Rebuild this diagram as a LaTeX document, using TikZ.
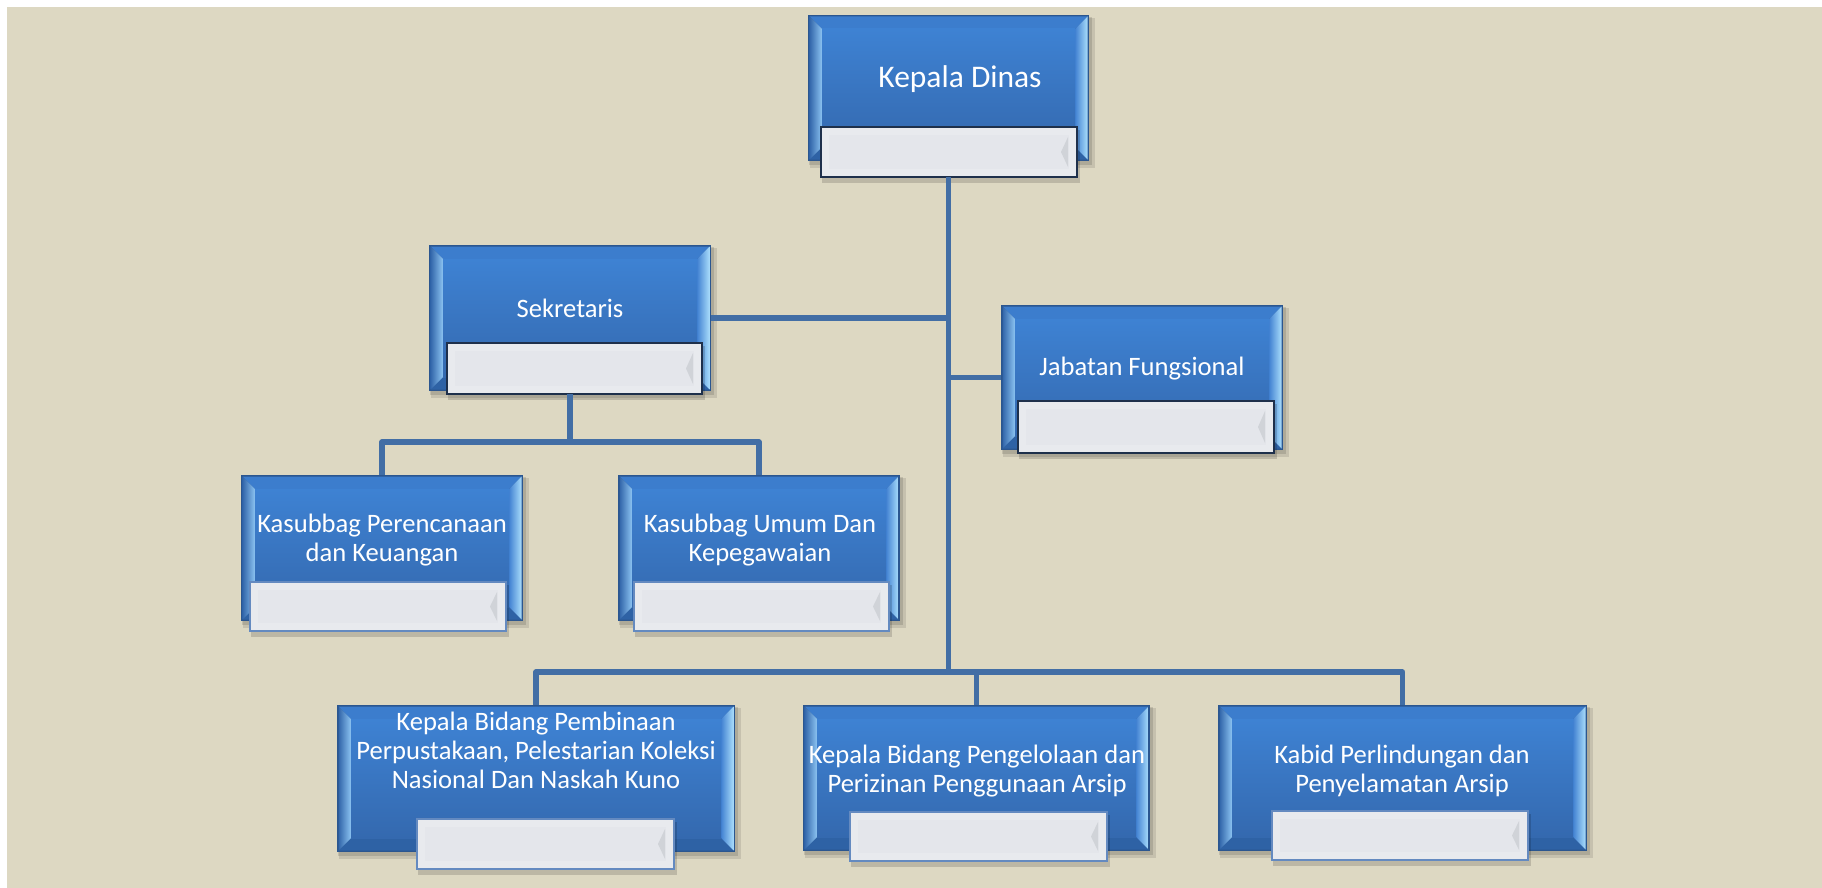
\documentclass[tikz,border=0pt]{standalone}
\usepackage{fontspec}
\setmainfont{Carlito}
\usetikzlibrary{fit}
\definecolor{bgbeige}{RGB}{221,216,194}
\definecolor{bedge}{RGB}{43,86,143}
\definecolor{btop}{RGB}{60,125,205}
\definecolor{bbot}{RGB}{46,98,165}
\definecolor{bleftout}{RGB}{50,102,170}
\definecolor{bleftin}{RGB}{140,196,242}
\definecolor{brightin}{RGB}{66,130,210}
\definecolor{brightout}{RGB}{168,220,251}
\definecolor{bfacetop}{RGB}{62,130,211}
\definecolor{bfacebot}{RGB}{52,105,175}
\definecolor{wfill}{RGB}{232,234,238}
\definecolor{winner}{RGB}{228,230,235}
\definecolor{wbevel}{RGB}{208,211,216}
\definecolor{navyline}{RGB}{30,48,75}
\definecolor{blueline}{RGB}{100,138,192}
\definecolor{connc}{RGB}{66,110,165}
\tikzset{
  conn/.style={draw=connc,line width=5.5pt,line join=round,line cap=butt},
  txt/.style={text=white,inner sep=0pt,align=center,font=\fontsize{26.6}{29}\selectfont},
}
\newcommand\bluebox[5]{%
  \fill[black,opacity=0.10] (#2+2,#3+3) rectangle (#4+6,#5+7);
  \fill[black,opacity=0.12] (#2+1,#3+2) rectangle (#4+3,#5+4);
  \fill[bedge] (#2,#3) rectangle (#4,#5);
  \fill[btop] (#2+1.5,#3+1.5) -- (#4-1.5,#3+1.5) -- (#4-14,#3+14) -- (#2+14,#3+14) -- cycle;
  \fill[bbot] (#2+1.5,#5-1.5) -- (#4-1.5,#5-1.5) -- (#4-14,#5-14) -- (#2+14,#5-14) -- cycle;
  \shade[left color=bleftout,right color=bleftin] (#2+1.5,#3+1.5) -- (#2+14,#3+14) -- (#2+14,#5-14) -- (#2+1.5,#5-1.5) -- cycle;
  \shade[left color=brightin,right color=brightout] (#4-1.5,#3+1.5) -- (#4-14,#3+14) -- (#4-14,#5-14) -- (#4-1.5,#5-1.5) -- cycle;
  \shade[top color=bfacetop,bottom color=bfacebot] (#2+14,#3+14) rectangle (#4-14,#5-14);
  \node[fit={(#2,#3)(#4,#5)},inner sep=0pt] (#1) {};
}
\newcommand\wbox[6]{%
  \fill[black,opacity=0.15] (#2+1,#3+3) rectangle (#4+3,#5+6);
  \fill[wfill] (#2,#3) rectangle (#4,#5);
  \fill[winner] (#2+8,#3+8) rectangle (#4-8,#5-8);
  \fill[wbevel] (#4-9,#3+10) -- (#4-9,#5-10) -- (#4-16,{(#3+#5)/2}) -- cycle;
  \draw[#6,line width=2pt] (#2,#3) rectangle (#4,#5);
  \node[fit={(#2,#3)(#4,#5)},inner sep=0pt] (#1) {};
}
\begin{document}
\begin{tikzpicture}[x=1pt,y=-1pt]
\useasboundingbox (0,0) rectangle (1822,888);
\fill[white] (0,0) rectangle (1822,888);
\fill[bgbeige] (7,7) rectangle (1822,888);

% boxes
\bluebox{kd}{808}{15}{1089}{161}
\wbox{kdw}{821}{127}{1077}{177}{navyline}
\bluebox{sek}{429}{245}{711}{391}
\wbox{sekw}{447}{343}{702}{394}{navyline}
\bluebox{jf}{1001}{305}{1283}{450}
\wbox{jfw}{1018}{401}{1274}{453}{navyline}
\bluebox{ksa}{241}{475}{523}{621}
\wbox{ksaw}{250}{582}{506}{631}{blueline}
\bluebox{ksb}{618}{475}{900}{621}
\wbox{ksbw}{634}{582}{889}{631}{blueline}
\bluebox{pb}{337}{705}{735}{852}
\wbox{pbw}{417}{819}{674}{869}{blueline}
\bluebox{pg}{803}{705}{1150}{851}
\wbox{pgw}{850}{812}{1107}{861}{blueline}
\bluebox{kb}{1218}{705}{1587}{851}
\wbox{kbw}{1272}{811}{1528}{860}{blueline}

% texts
\node[txt,anchor=base,font=\fontsize{31.5}{36}\selectfont] (kdt) at (960,88) {Kepala Dinas};
\node[txt,anchor=base] (sekt) at (570,317) {Sekretaris};
\node[txt,anchor=base] (jft) at (1142,375) {Jabatan Fungsional};
\node[txt] (ksat) at (382,540) {Kasubbag Perencanaan\\dan Keuangan};
\node[txt] (ksbt) at (760,540) {Kasubbag Umum Dan\\Kepegawaian};
\node[txt] (pbt) at (536,750) {Kepala Bidang Pembinaan\\Perpustakaan, Pelestarian Koleksi\\Nasional Dan Naskah Kuno};
\node[txt] (pgt) at (977,771) {Kepala Bidang Pengelolaan dan\\Perizinan Penggunaan Arsip};
\node[txt] (kbt) at (1402,771) {Kabid Perlindungan dan\\Penyelamatan Arsip};

% connectors
\coordinate (busB) at (948.5,672);
\coordinate (busS) at (570,442);
\draw[conn] (kd.south |- kdw.south) -- (busB);
\draw[conn] (sek.east) -- (sek.east -| busB);
\draw[conn] (jf.west) -- (jf.west -| busB);
\draw[conn] (pb.north) |- (busB);
\draw[conn] (pg.north) |- (busB);
\draw[conn] (kb.north) |- (busB);
\draw[conn] (sek.south |- sekw.south) -- (busS);
\draw[conn] (ksa.north) |- (busS);
\draw[conn] (ksb.north) |- (busS);
\end{tikzpicture}
\end{document}
